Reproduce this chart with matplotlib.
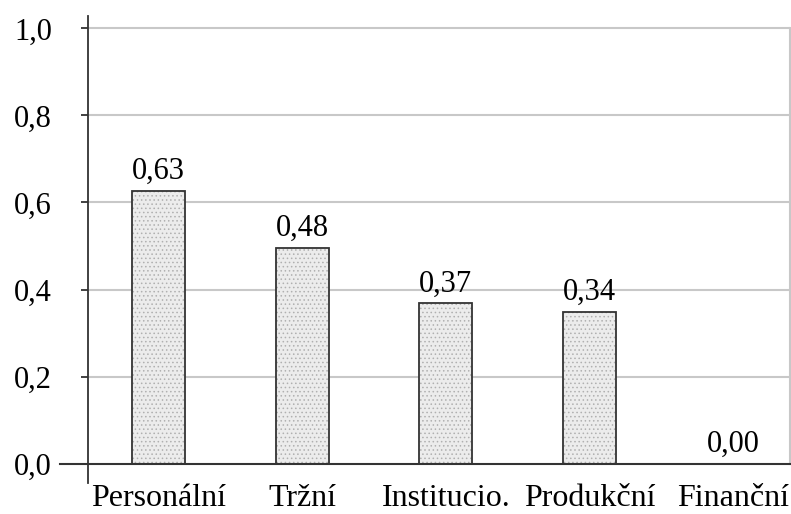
import matplotlib
matplotlib.use("Agg")
import matplotlib.pyplot as plt
import matplotlib.transforms as mtransforms

categories = ["Personální", "Tržní", "Institucio.", "Produkční", "Finanční"]
values = [0.626, 0.495, 0.368, 0.349, 0.0]
value_labels = ["0,63", "0,48", "0,37", "0,34", "0,00"]
y_ticks = [0.0, 0.2, 0.4, 0.6, 0.8, 1.0]
y_tick_labels = ["0,0", "0,2", "0,4", "0,6", "0,8", "1,0"]

plt.rcParams['font.family'] = ['Liberation Serif', 'DejaVu Serif']
plt.rcParams['hatch.linewidth'] = 0.6

fig = plt.figure(figsize=(7.91, 5.14), dpi=100)
ax = fig.add_axes([88/791, 1-483/514, (790-88)/791, (483-16)/514])

x = list(range(len(categories)))
ax.set_xlim(-0.49, 4.395)
ax.set_ylim(-0.0448, 1.0287)

# gridlines
for t in y_ticks[1:]:
    ax.axhline(t, color="#c8c8c8", lw=1.5, zorder=0)
# right border
ax.plot([1, 1], [0, 1], transform=mtransforms.blended_transform_factory(ax.transAxes, ax.transData),
        color="#c8c8c8", lw=1.5, clip_on=False, zorder=0)

# bars
w = 0.369
ax.bar(x, values, width=w, color="#ececec", edgecolor="#b0b0b0", hatch="....", linewidth=0, zorder=2)
ax.bar(x, values, width=w, fill=False, edgecolor="#333333", linewidth=1.3, zorder=3)

# zero line extending left
ax.plot([-0.04, 1], [0, 0], transform=mtransforms.blended_transform_factory(ax.transAxes, ax.transData),
        color="#333333", lw=1.5, clip_on=False, zorder=4)

for xi, v, lab in zip(x, values, value_labels):
    ax.annotate(lab, (xi, v), xytext=(0, 3.5), textcoords="offset points",
                ha="center", va="bottom", fontsize=22)

for s in ["top", "right", "bottom"]:
    ax.spines[s].set_visible(False)
ax.spines["left"].set_color("#333333")
ax.spines["left"].set_linewidth(1.3)

ax.set_yticks(y_ticks)
ax.set_yticklabels(y_tick_labels, fontsize=22)
ax.tick_params(axis="y", direction="out", length=5, width=1.3, color="#333333", pad=21)
ax.set_xticks(x)
ax.set_xticklabels(categories, fontsize=23)
ax.tick_params(axis="x", length=0, pad=1)

fig.savefig("out.png", dpi=100)
